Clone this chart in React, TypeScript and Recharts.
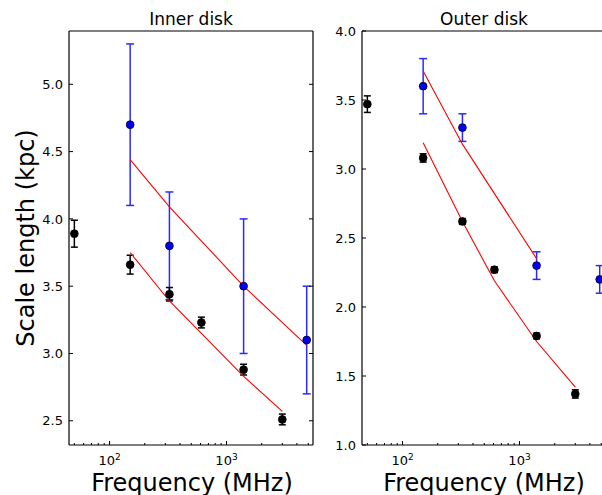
import { ScatterChart, Scatter, XAxis, YAxis, ErrorBar } from "recharts";

// frequencies (MHz)
const bandFreqs = [50, 150, 325, 610, 1400, 3000];
const blueFreqs = [150, 325, 1400, 4850];
const fitFreqs = [150, 325, 610, 1400, 3000];
const outerBlueFitFreqs = [150, 325, 1400];

// inner disk
const innerBlack = [3.89, 3.66, 3.44, 3.23, 2.88, 2.51];
const innerBlackErr = [0.1, 0.07, 0.05, 0.04, 0.04, 0.04];
const innerBlue = [4.7, 3.8, 3.5, 3.1];
const innerBlueErr = [0.6, 0.4, 0.5, 0.4];
const innerFitBlack = [3.75, 3.39, 3.15, 2.83, 2.57];
const innerFitBlue = [4.44, 4.09, 3.5, 3.06];

// outer disk
const outerBlack = [3.47, 3.08, 2.62, 2.27, 1.79, 1.37];
const outerBlackErr = [0.06, 0.03, 0.02, 0.02, 0.02, 0.03];
const outerBlue = [3.6, 3.3, 2.3, 2.2];
const outerBlueErr = [0.2, 0.1, 0.1, 0.1];
const outerFitBlack = [3.19, 2.62, 2.19, 1.75, 1.42];
const outerFitBlue = [3.71, 3.18, 2.35];

// ticks
const majorX = [100, 1000];
const minorX = [50, 60, 70, 80, 90, 200, 300, 400, 500, 600, 700, 800, 900, 2000, 3000, 4000, 5000];
const allX = [...minorX, ...majorX].sort((a, b) => a - b);
const innerYTicks = [2.5, 3.0, 3.5, 4.0, 4.5, 5.0];
const outerYTicks = [1.0, 1.5, 2.0, 2.5, 3.0, 3.5, 4.0];

const X_DOMAIN: [number, number] = [45, 5490];
const FONT = "'DejaVu Sans', sans-serif";

const pts = (xs: number[], ys: number[], es?: number[]) =>
  xs.map((f, i) => ({ f, v: ys[i], e: es ? es[i] : 0 }));

const BottomTick = (p: any) => {
  const major = majorX.includes(p.payload.value);
  return (
    <g>
      <line x1={p.x} x2={p.x} y1={p.y} y2={p.y - (major ? 4 : 2)} stroke="#000" />
      {major && (
        <text x={p.x} y={p.y + 19.5} textAnchor="middle" fontSize={13} fontFamily={FONT} fill="#000">
          10
          <tspan dy={-5} fontSize={9}>
            {Math.round(Math.log10(p.payload.value))}
          </tspan>
        </text>
      )}
    </g>
  );
};

const TopTick = (p: any) => {
  const major = majorX.includes(p.payload.value);
  return <line x1={p.x} x2={p.x} y1={p.y} y2={p.y + (major ? 4 : 2)} stroke="#000" />;
};

const LeftTick = (p: any) => (
  <g>
    <line x1={p.x} x2={p.x + 4} y1={p.y} y2={p.y} stroke="#000" />
    <text x={p.x - 6} y={p.y + 4.7} textAnchor="end" fontSize={13} fontFamily={FONT} fill="#000">
      {Number(p.payload.value).toFixed(1)}
    </text>
  </g>
);

const RightTick = (p: any) => <line x1={p.x} x2={p.x - 4} y1={p.y} y2={p.y} stroke="#000" />;

const dot = (fill: string) => (p: any) => (
  <circle cx={p.cx} cy={p.cy} r={3.9} fill={fill} stroke="#000" strokeWidth={0.8} />
);
const noDot = () => <g />;

function Panel(props: {
  left: number;
  marginLeft: number;
  yDomain: [number, number];
  yTicks: number[];
  black: any[];
  blue: any[];
  fitBlack: any[];
  fitBlue: any[];
}) {
  const axisLine = { stroke: "#000", strokeWidth: 1.2 };
  return (
    <div style={{ position: "absolute", left: props.left, top: 0 }}>
      <ScatterChart
        width={320}
        height={495}
        margin={{ top: 30, left: props.marginLeft - 1, right: 320 - props.marginLeft - 244 - 1, bottom: 49 }}
      >
        <XAxis
          dataKey="f"
          type="number"
          scale="log"
          domain={X_DOMAIN}
          allowDataOverflow
          ticks={allX}
          interval={0}
          height={1}
          tickSize={0}
          tickMargin={0}
          tickLine={false}
          axisLine={axisLine}
          tick={BottomTick}
        />
        <XAxis
          xAxisId="top"
          orientation="top"
          type="number"
          scale="log"
          domain={X_DOMAIN}
          allowDataOverflow
          ticks={allX}
          interval={0}
          height={1}
          tickSize={0}
          tickMargin={0}
          tickLine={false}
          axisLine={axisLine}
          tick={TopTick}
        />
        <YAxis
          dataKey="v"
          type="number"
          domain={props.yDomain}
          allowDataOverflow
          ticks={props.yTicks}
          interval={0}
          width={1}
          tickSize={0}
          tickMargin={0}
          tickLine={false}
          axisLine={axisLine}
          tick={LeftTick}
        />
        <YAxis
          yAxisId="right"
          orientation="right"
          type="number"
          domain={props.yDomain}
          allowDataOverflow
          ticks={props.yTicks}
          interval={0}
          width={1}
          tickSize={0}
          tickMargin={0}
          tickLine={false}
          axisLine={axisLine}
          tick={RightTick}
        />
        <Scatter data={props.fitBlack} line={{ stroke: "#ff0000", strokeWidth: 1.1 }} shape={noDot} isAnimationActive={false} />
        <Scatter data={props.fitBlue} line={{ stroke: "#ff0000", strokeWidth: 1.1 }} shape={noDot} isAnimationActive={false} />
        <Scatter data={props.blue} shape={dot("#0000ff")} isAnimationActive={false}>
          <ErrorBar dataKey="e" direction="y" width={4} stroke="#2a2aff" strokeWidth={1.5} isAnimationActive={false} />
        </Scatter>
        <Scatter data={props.black} shape={dot("#000000")} isAnimationActive={false}>
          <ErrorBar dataKey="e" direction="y" width={3.5} stroke="#000" strokeWidth={1.5} isAnimationActive={false} />
        </Scatter>
      </ScatterChart>
    </div>
  );
}

export default function App() {
  return (
    <div
      style={{
        position: "absolute",
        left: 0,
        top: 0,
        width: 602,
        height: 495,
        overflow: "hidden",
        background: "#fff",
      }}
    >
      <Panel
        left={0}
        marginLeft={69}
        yDomain={[2.32, 5.396]}
        yTicks={innerYTicks}
        black={pts(bandFreqs, innerBlack, innerBlackErr)}
        blue={pts(blueFreqs, innerBlue, innerBlueErr)}
        fitBlack={pts(fitFreqs, innerFitBlack)}
        fitBlue={pts(blueFreqs, innerFitBlue)}
      />
      <Panel
        left={300}
        marginLeft={62}
        yDomain={[1, 4]}
        yTicks={outerYTicks}
        black={pts(bandFreqs, outerBlack, outerBlackErr)}
        blue={pts(blueFreqs, outerBlue, outerBlueErr)}
        fitBlack={pts(fitFreqs, outerFitBlack)}
        fitBlue={pts(outerBlueFitFreqs, outerFitBlue)}
      />
      <svg
        width={602}
        height={495}
        style={{ position: "absolute", left: 0, top: 0, pointerEvents: "none" }}
        fontFamily={FONT}
      >
        <text x={191} y={25} textAnchor="middle" fontSize={17} fill="#000">
          Inner disk
        </text>
        <text x={484} y={25} textAnchor="middle" fontSize={17} fill="#000">
          Outer disk
        </text>
        <text x={192} y={491} textAnchor="middle" fontSize={24} fill="#000">
          Frequency (MHz)
        </text>
        <text x={484} y={491} textAnchor="middle" fontSize={24} fill="#000">
          Frequency (MHz)
        </text>
        <text transform="translate(33.5,238) rotate(-90)" textAnchor="middle" fontSize={24} fill="#000">
          Scale length (kpc)
        </text>
      </svg>
    </div>
  );
}
